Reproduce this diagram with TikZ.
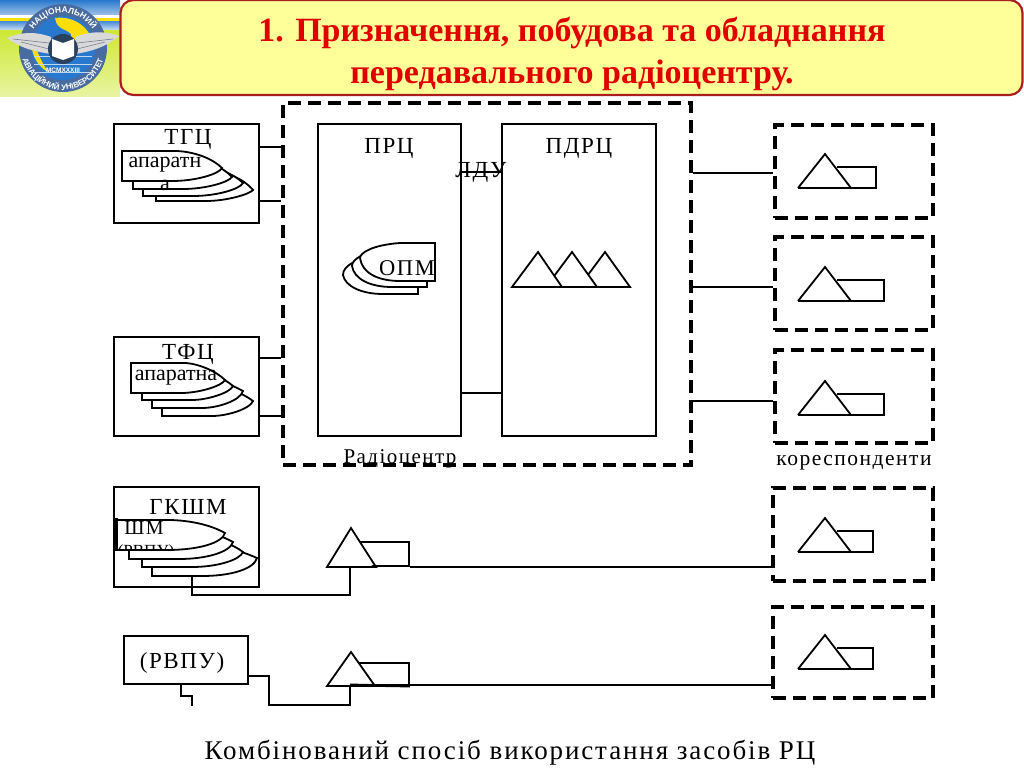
\documentclass[tikz,border=0pt]{standalone}
\usepackage{fontspec}
\setmainfont{Liberation Serif}
\newfontfamily\schemefont[LetterSpace=7]{Liberation Serif}
\newfontfamily\logofont{Liberation Sans}
\usepackage{xcolor}
\usetikzlibrary{calc, decorations.text}
\definecolor{titlered}{RGB}{224,0,0}
\definecolor{titleedge}{RGB}{170,30,30}
\definecolor{titlefill}{RGB}{255,255,153}
\definecolor{logoblue}{RGB}{40,120,205}
\definecolor{logoring}{RGB}{72,108,160}
\definecolor{logolime}{RGB}{205,232,50}
\newcommand{\sch}[1]{\fontsize{#1}{#1}\selectfont\schemefont}

\begin{document}
\begin{tikzpicture}[x=1pt, y=-1pt, line join=miter,
    solidbox/.style={draw, line width=1.8pt, fill=none, inner sep=0pt},
    dashbox/.style={draw, line width=3.6pt, dash pattern=on 13pt off 7pt, inner sep=0pt, minimum width=158pt, minimum height=92pt},
    wire/.style={line width=1.9pt},
    leaf/.style={draw, line width=1.8pt, fill=white},
    aerial/.style={line width=1.8pt},
    lbl/.style={inner sep=0pt, text=black}]
  \useasboundingbox (0,0) rectangle (1024,768);
  \fill[white] (0,0) rectangle (1024,768);

  % Emblem
  \fill[logolime] (0,0) rectangle (120,96);
  \shade[top color=logolime, bottom color=logolime!45!white] (0,30) rectangle (120,96);
  \shade[top color=logoblue, bottom color=logoblue!45!white] (0,0) rectangle (120,15);
  \fill[white] (0,15) rectangle (120,18);
  \fill[yellow!85!orange] (0,18) rectangle (120,22);
  \shade[top color=logoblue!80!white, bottom color=logoblue!25!white] (0,22) rectangle (120,30);
  \begin{scope}[shift={(63,48)}, y=1pt]
    \fill[logoring] (0,0) circle (44);
    \fill[logoblue] (0,0) circle (32);
    \fill[yellow!80!orange] (-8,30) .. controls (14,33) and (31,16) .. (30,0) .. controls (14,6) and (6,8) .. (8,14) .. controls (2,20) and (-6,18) .. cycle;
    \fill[yellow!80!orange] (-31,6) .. controls (-24,-4) and (-22,-16) .. (-14,-24) .. controls (-22,-22) and (-33,-8) .. cycle;
    \foreach \r in {8,16,24} {\draw[white!70!logoblue, line width=0.5pt] (-29,-\r) -- (29,-\r);}
    \path[decorate, decoration={text along path, text align=center,
      text={|\fontsize{8.5}{8.5}\selectfont\logofont\bfseries\color{white}|НАЦІОНАЛЬНИЙ}}]
      (150:35) arc[start angle=150, end angle=30, radius=35];
    \path[decorate, decoration={text along path, text align=center,
      text={|\fontsize{8}{8}\selectfont\logofont\bfseries\color{white}|АВІАЦІЙНИЙ УНІВЕРСИТЕТ}}]
      (184:42) arc[start angle=184, end angle=356, radius=42];
    \fill[gray!30] (-56,10) .. controls (-40,17) and (-25,16) .. (-12,11) -- (-12,-6) .. controls (-25,-4) and (-42,-1) .. cycle;
    \fill[gray!30] (56,12) .. controls (40,18) and (25,16) .. (12,11) -- (12,-6) .. controls (25,-4) and (42,0) .. cycle;
    \foreach \s in {-1,1} {
      \draw[gray!70!logoring, line width=0.6pt] (\s*50,9) -- (\s*14,5);
      \draw[gray!70!logoring, line width=0.6pt] (\s*42,6) -- (\s*14,-1);
    }
    \fill[logoring!60!black] (0,-1) circle (15);
    \fill[white] (-11,9) -- (0,5) -- (11,9) -- (11,-8) -- (0,-12) -- (-11,-8) -- cycle;
    \node[lbl, text=white] (foundyear) at (0,-22) {\fontsize{6.5}{6.5}\selectfont\logofont\bfseries MCMXXXIII};
  \end{scope}

  % Title
  \node[draw=titleedge, fill=titlefill, line width=2.2pt, rounded corners=13pt, minimum width=902pt, minimum height=95pt, inner sep=0pt] (titlebox) at (571.5,47.5) {};
  \node[lbl, text=titlered, align=center, font=\fontsize{34}{42}\selectfont\bfseries] (titletext) at (572,54)
    {1. Призначення, побудова та обладнання\\передавального радіоцентру.};

  % Radio centre
  \node[draw, line width=3.6pt, dash pattern=on 13pt off 7pt, inner sep=0pt, minimum width=408pt, minimum height=362pt] (rc) at (487,284) {};
  \node[solidbox, minimum width=143pt, minimum height=312pt] (prc) at (389.5,280) {};
  \node[solidbox, minimum width=154pt, minimum height=312pt] (pdrc) at (579,280) {};
  \draw[wire] (prc.east |- 0,172) -- (pdrc.west |- 0,172);
  \draw[wire] (prc.east |- 0,393) -- (pdrc.west |- 0,393);
  \node[lbl] (prclbl) at (389,148) {\sch{23}ПРЦ};
  \node[lbl] (pdrclbl) at (579,148) {\sch{23}ПДРЦ};
  \node[lbl] (ldulbl) at (481,172) {\sch{23}ЛДУ};
  \node[lbl] (rclbl) at (400,459) {\sch{21}Радіоцентр};
  % ОПМ, facing left
  \foreach \rx/\by/\tip/\tipy in {418/294/343/275, 427/287/352/266, 435/281/360/258} {
    \draw[leaf] (\rx,\by) -- (\rx,\by-38) -- ({\rx-35},\by-38)
      .. controls ({\tip+12},\by-36) and (\tip,\by-28) .. (\tip,\tipy)
      .. controls ({\tip+2},\by-8) and ({\tip+18},\by) .. ({\rx-35},\by) -- cycle;
  }
  \node[lbl] (opmlbl) at (407,268) {\sch{22.5}ОПМ};
  % transmitter aerials
  \foreach \ax/\rx in {605/630, 572/597, 538/562} {
    \draw[aerial, fill=white] ({\ax-26},287) -- (\ax,252) -- (\rx,287) -- cycle;
  }

  % Sources
  \node[solidbox, minimum width=145pt, minimum height=99pt] (tgc) at (186.5,173.5) {};
  \node[solidbox, minimum width=145pt, minimum height=99pt] (tfc) at (186.5,386.5) {};
  \node[solidbox, minimum width=145pt, minimum height=100pt] (gksm) at (186.5,537) {};
  \node[solidbox, minimum width=124pt, minimum height=48pt] (rvpu) at (186,660) {};
  \node[lbl] (tgclbl) at (188,139) {\sch{23}ТГЦ};
  \node[lbl] (tfclbl) at (188,354) {\sch{23}ТФЦ};
  \node[lbl] (gksmlbl) at (188,507) {\sch{23}ГКШМ};
  \node[lbl] (rvpulbl) at (182,663) {\sch{23}(РВПУ)};
  \foreach \lx/\by/\tip/\tipy in {156/201/253/190, 143/196/243/183, 133/189/232/177, 122/181/222/168,
                                  162/416/253/401, 152/408/243/391, 142/400/233/386, 131/393/225/380,
                                  152/576/257/558, 142/567/243/552, 129/559/233/542, 116/550/225/533} {
    \draw[leaf] (\lx,\by) -- (\lx,\by-30) -- ({\lx+55},\by-30)
      .. controls ({\tip-26},\by-29) and ({\tip-9},\by-22) .. (\tip,\tipy)
      .. controls ({\tip-3},\by-7) and ({\tip-26},\by) .. ({\lx+50},\by) -- cycle;
  }
  \draw[line width=3pt] (116,518) -- (116,550);
  \node[lbl, align=center, font=\fontsize{22}{23}\selectfont] (tgcapp) at (165,174) {апаратн\\а};
  \node[lbl, font=\fontsize{22}{22}\selectfont] (tfcapp) at (176,378) {апаратна};
  \node[lbl] (smlbl) at (144,528) {\sch{20}ШМ};
  \begin{scope}
    \clip (118,519) rectangle (180,549);
    \node[lbl] (smsub) at (146,552) {\fontsize{17}{17}\selectfont(РВПУ)};
  \end{scope}

  % Inputs of the radio centre
  \foreach \y in {147,201,358,416} {
    \draw[wire] (259,\y) -- (rc.west |- 0,\y);
  }

  % Correspondents
  \node[dashbox, minimum height=93pt] (corr1) at (854,171.5) {};
  \node[dashbox, minimum height=93pt] (corr2) at (854,283.5) {};
  \node[dashbox, minimum height=93pt] (corr3) at (854,396.5) {};
  \node[dashbox, minimum width=160pt, minimum height=93pt] (corr4) at (853,534.5) {};
  \node[dashbox, minimum width=160pt, minimum height=91pt] (corr5) at (853,652.5) {};
  \node[lbl] (corrlbl) at (854,463) {\sch{21.5}кореспонденти};
  \draw[wire] (rc.east |- 0,173) -- (corr1.west |- 0,173);
  \draw[wire] (rc.east |- 0,287) -- (corr2.west |- 0,287);
  \draw[wire] (rc.east |- 0,401) -- (corr3.west |- 0,401);
  \foreach \bx/\by/\rx/\r in {798/188/876/1, 798/301/884/2, 798/415/884/3, 798/552/873/4, 798/669/873/5} {
    \draw[aerial] (\bx,\by) -- ({\bx+27},\by-34) -- ({\bx+53},\by);
    \draw[aerial] (\bx,\by) -- (\rx,\by) -- (\rx,\by-21) -- ({\bx+39},\by-21);
  }

  % Aerials of the two direct feeds
  \node[draw, line width=1.8pt, inner sep=0pt, anchor=south east, minimum width=50pt, minimum height=24pt, fill=none] (gkrect) at (410,567) {};
  \fill[white] (352,541) -- (352,566) -- (372,566) -- (359,541) -- cycle;
  \draw[aerial] (327,567) -- (351,528) -- (376,567) -- cycle;
  \coordinate (gkfoot) at (350,567);
  \draw[wire] (192,576) -- (192,595) -- (gkfoot |- 0,595) -- (gkfoot);
  \draw[wire] (gkrect.south east) -- (corr4.west |- gkrect.south east);

  \node[draw, line width=1.8pt, inner sep=0pt, anchor=south east, minimum width=50pt, minimum height=22pt, fill=none] (rvrect) at (410,686) {};
  \fill[white] (352,663) -- (352,684) -- (372,684) -- (359,663) -- cycle;
  \draw[aerial] (327,686) -- (351,652) -- (375,686) -- cycle;
  \draw[line width=2.8pt] (350,685) -- (rvrect.south east);
  \coordinate (rvfoot) at (350,685);
  \draw[wire] (rvrect.south east |- 0,685) -- (corr5.west |- 0,685);
  \draw[wire] (rvpu.east |- 0,676) -- (269,676) -- (269,705) -- (rvfoot |- 0,705) -- (rvfoot);
  \draw[wire] (181,684) -- (181,696) -- (192,696) -- (192,706);

  \node[lbl] (caption) at (510,753) {\sch{27}Комбінований спосіб використання засобів РЦ};
\end{tikzpicture}
\end{document}
